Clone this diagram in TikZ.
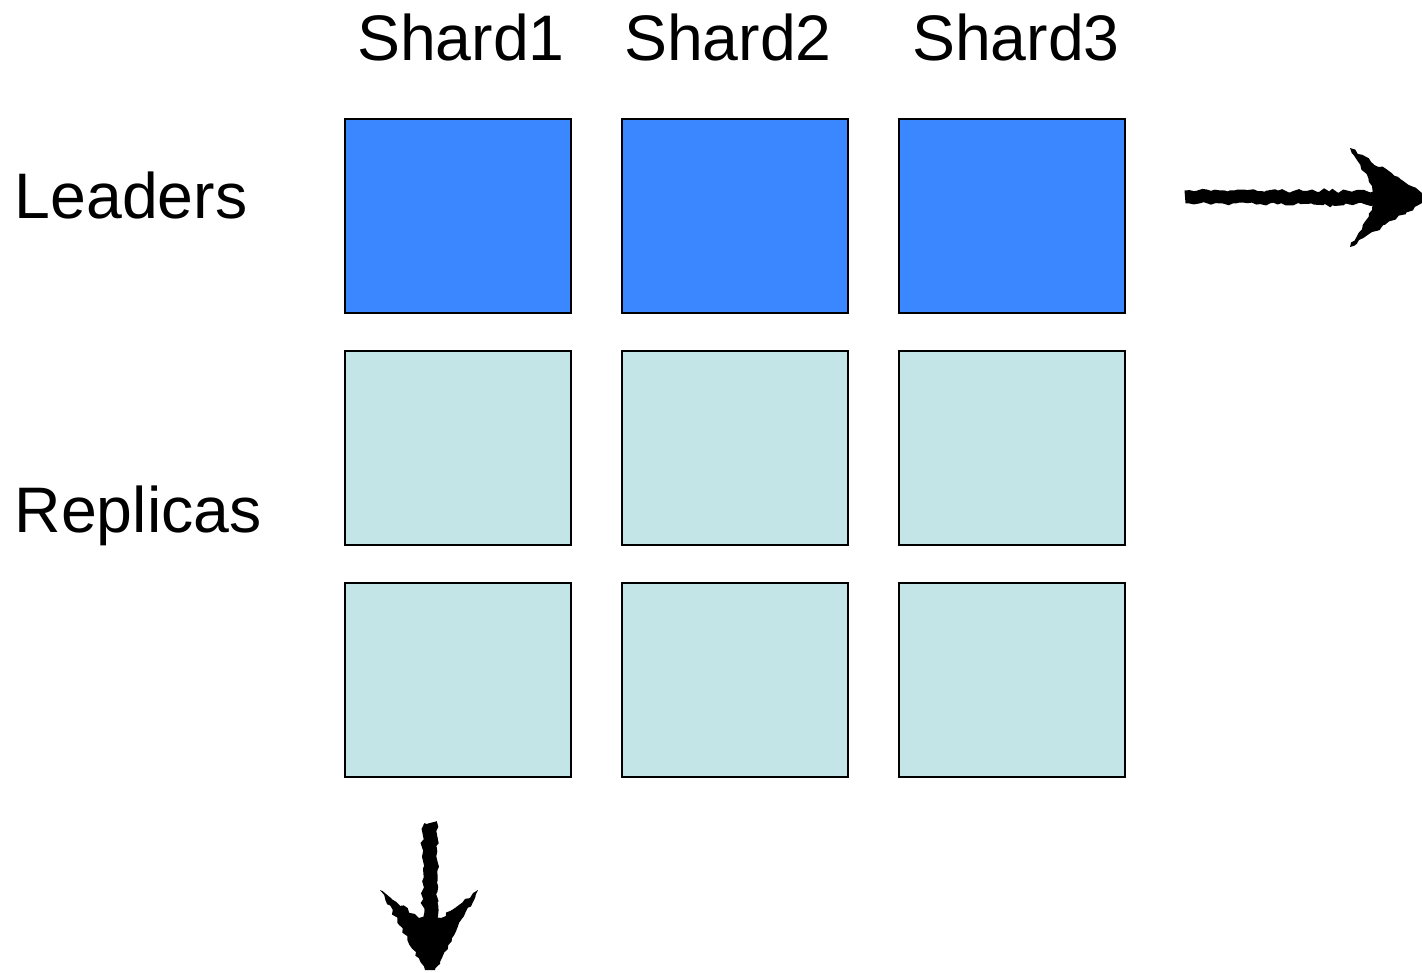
\documentclass[tikz,border=0pt]{standalone}
\usepackage{fontspec}
\setmainfont{Liberation Sans}
\usetikzlibrary{decorations.pathmorphing}
\definecolor{leaderblue}{RGB}{59,135,255}
\definecolor{replicacyan}{RGB}{196,229,231}
\tikzset{
  shard/.style={draw=black,line width=0.6pt,minimum width=2.26cm,minimum height=1.94cm,inner sep=0pt},
  leader/.style={shard,fill=leaderblue},
  replica/.style={shard,fill=replicacyan},
  lbl/.style={font=\fontsize{18.3}{20}\selectfont,inner sep=0pt},
  rough/.style={decorate,decoration={random steps,segment length=1.2pt,amplitude=0.45pt}},
}
\begin{document}
\begin{tikzpicture}[x=0.01cm,y=-0.01cm]
  \pgfmathsetseed{7}
  \useasboundingbox (0,0) rectangle (1422,972);
  % column heads
  \node[lbl,anchor=base] (head1) at (461,60) {Shard1};
  \node[lbl,anchor=base] (head2) at (728,60) {Shard2};
  \node[lbl,anchor=base] (head3) at (1016,60) {Shard3};
  % row labels
  \node[lbl,anchor=base west] (leaders) at (14,218) {Leaders};
  \node[lbl,anchor=base west] (replicas) at (14,532) {Replicas};
  % one leader and two replicas per shard
  \foreach \c/\x in {1/458,2/735,3/1012}{
    \node[leader] (lead\c) at (\x,216) {};
    \node[replica] (repa\c) at (\x,448) {};
    \node[replica] (repb\c) at (\x,680) {};
  }
  % sketched arrows
  \coordinate (outTail) at (1185,197);
  \coordinate (outTip) at (1422,198);
  \coordinate (downTail) at (430,823);
  \coordinate (downTip) at (430,970);
  \draw[rough,line width=0.13cm] (outTail) -- ([xshift=-0.4cm]outTip);
  \fill[rough] (outTip) -- +(0,-5) -- +(-72,-50) -- +(-50,-12) -- +(-50,12) -- +(-72,49) -- +(0,5) -- cycle;
  \draw[rough,line width=0.14cm] (downTail) -- ([yshift=0.4cm]downTip);
  \fill[rough] (downTip) -- +(-5,0) -- +(-50,-80) -- +(-11,-52) -- +(11,-52) -- +(48,-80) -- +(5,0) -- cycle;
\end{tikzpicture}
\end{document}
